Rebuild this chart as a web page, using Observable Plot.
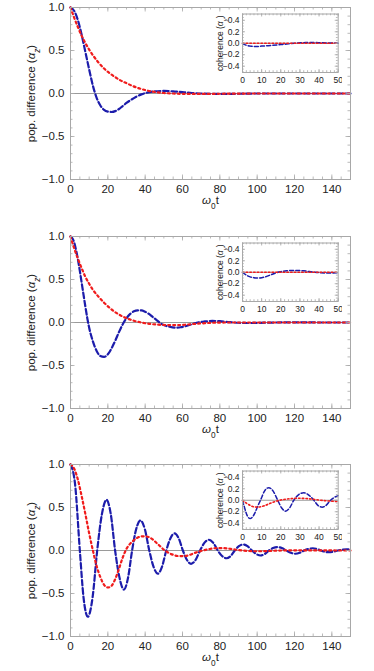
<!DOCTYPE html>
<html><head><meta charset="utf-8">
<script src="https://cdn.jsdelivr.net/npm/d3@7"></script>
<script src="https://cdn.jsdelivr.net/npm/@observablehq/plot@0.6"></script>
<style>
html,body{margin:0;padding:0;background:#fff;overflow:hidden;}
#wrap{position:relative;width:374px;height:671px;}
.panel,.inset{position:absolute;}
</style></head><body><div id="wrap"></div>
<script>
// ---- tick labels ----
const xTicksMain = [0, 20, 40, 60, 80, 100, 120, 140];
const yTicksMain = [-1, -0.5, 0, 0.5, 1];
const xTicksInset = [0, 10, 20, 30, 40, 50];
const yTicksInset = [-0.4, -0.2, 0, 0.2, 0.4];

// ---- panel 1 (top) ----
const mainBlue1 = [[0,1],[2,0.96],[4,0.85],[6,0.68],[8,0.48],[10,0.28],[12,0.09],[14,-0.05],[16,-0.14],[18,-0.19],[20,-0.21],[22,-0.215],[24,-0.205],[26,-0.18],[28,-0.145],[30,-0.11],[32,-0.08],[35,-0.04],[38,-0.01],[41,0.01],[45,0.025],[50,0.03],[55,0.025],[60,0.015],[65,0.006],[70,0],[80,-0.004],[90,-0.003],[100,0],[120,0],[150,0]];
const mainRed1 = [[0,1],[2,0.88],[4,0.77],[6,0.67],[8,0.585],[10,0.51],[12,0.445],[15,0.36],[18,0.29],[21,0.235],[24,0.19],[27,0.15],[30,0.12],[33,0.09],[36,0.065],[40,0.04],[45,0.018],[50,0.006],[55,0],[60,-0.004],[70,-0.005],[80,-0.003],[100,0],[150,0]];
const insetBlue1 = [[0,0],[1,-0.02],[2,-0.035],[4,-0.05],[6,-0.055],[8,-0.055],[10,-0.05],[12,-0.045],[15,-0.038],[18,-0.03],[21,-0.02],[24,-0.01],[27,0],[30,0.007],[33,0.011],[36,0.012],[40,0.01],[45,0.005],[50,0.002]];
const insetRed1 = [[0,0],[10,0],[20,0],[30,0],[40,0],[50,0]];

// ---- panel 2 (middle) ----
const mainBlue2 = [[0,1],[1,0.98],[2,0.93],[3,0.84],[4,0.73],[5,0.6],[6,0.46],[7,0.32],[8,0.18],[9,0.05],[10,-0.06],[12,-0.22],[14,-0.33],[16,-0.39],[18,-0.4],[20,-0.37],[22,-0.3],[24,-0.21],[26,-0.11],[28,-0.02],[30,0.05],[32,0.1],[34,0.13],[36,0.14],[38,0.14],[40,0.125],[42,0.1],[44,0.065],[46,0.03],[48,-0.005],[50,-0.03],[53,-0.05],[56,-0.06],[59,-0.055],[62,-0.04],[65,-0.02],[68,0],[72,0.012],[76,0.018],[80,0.015],[85,0.005],[90,-0.003],[95,-0.006],[100,-0.004],[110,0],[120,0.002],[135,0],[150,0]];
const mainRed2 = [[0,1],[2,0.86],[4,0.74],[6,0.63],[8,0.53],[10,0.45],[12,0.38],[15,0.3],[18,0.23],[21,0.17],[24,0.12],[27,0.08],[30,0.05],[34,0.02],[38,0],[42,-0.015],[47,-0.025],[52,-0.03],[57,-0.03],[62,-0.025],[67,-0.015],[72,-0.008],[78,-0.002],[85,0],[100,0],[150,0]];
const insetBlue2 = [[0,0],[2,-0.05],[4,-0.08],[6,-0.095],[8,-0.1],[10,-0.095],[12,-0.08],[14,-0.055],[16,-0.03],[18,-0.005],[20,0.01],[23,0.025],[26,0.032],[29,0.032],[32,0.025],[35,0.012],[38,0],[41,-0.008],[44,-0.012],[47,-0.012],[50,-0.01]];
const insetRed2 = [[0,0],[10,0],[20,0],[30,0],[40,0],[50,0]];

// ---- panel 3 (bottom) ----
const mainBlue3 = [[0,1],[2.4,0.78],[5,0],[7,-0.55],[9.3,-0.77],[11.8,-0.55],[14.3,0],[16.8,0.42],[19.3,0.59],[21.6,0.42],[23.9,0],[26.3,-0.32],[28.6,-0.455],[30.8,-0.32],[33,0],[35.2,0.25],[37.5,0.35],[39.8,0.25],[42.2,0],[44.5,-0.19],[46.8,-0.27],[49,-0.19],[51.3,0],[53.5,0.14],[55.7,0.2],[58,0.14],[60.2,0],[62.4,-0.11],[64.6,-0.155],[67,-0.11],[69.4,0],[71.7,0.088],[74.1,0.125],[76.5,0.088],[78.9,0],[81.2,-0.064],[83.6,-0.09],[85.8,-0.064],[88,0],[90.2,0.05],[92.5,0.07],[94.8,0.05],[97.2,0],[99.5,-0.041],[101.8,-0.058],[104,-0.041],[106.3,0],[108.5,0.028],[110.7,0.04],[113.2,0.028],[115.6,0],[118,-0.027],[120.5,-0.038],[122.8,-0.027],[125.2,0],[127.5,0.018],[129.8,0.026],[132,0.018],[134.1,0],[136.2,-0.014],[138.4,-0.02],[140.8,-0.014],[143.2,0],[145.6,0.009],[148,0.013],[150,0.01]];
const mainRed3 = [[0,1],[2,0.95],[4,0.82],[6,0.63],[8,0.42],[10,0.2],[12,0],[14,-0.18],[16,-0.31],[18,-0.4],[20,-0.43],[22,-0.41],[24,-0.33],[26,-0.21],[28,-0.08],[30,0.02],[32,0.08],[34,0.12],[36,0.15],[38,0.165],[40,0.165],[42,0.155],[44,0.13],[46,0.09],[48,0.05],[50,0.01],[52,-0.02],[55,-0.05],[58,-0.065],[61,-0.065],[64,-0.05],[67,-0.025],[70,-0.005],[74,0.015],[78,0.027],[82,0.027],[86,0.018],[90,0.005],[95,-0.005],[100,-0.009],[105,-0.007],[110,-0.002],[120,0.002],[130,0.001],[150,0]];
const insetBlue3 = [[0,0],[1,-0.12],[2,-0.23],[3,-0.3],[4,-0.32],[5,-0.3],[6.5,-0.22],[8,-0.1],[9.4,0],[11.5,0.16],[13.7,0.22],[16,0.16],[18.4,0],[20.4,-0.13],[22.5,-0.19],[24.7,-0.13],[26.8,0],[29.4,0.1],[32,0.13],[34.6,0.09],[37.3,0],[39.4,-0.09],[41.6,-0.12],[43.8,-0.085],[46,0],[48,0.05],[50,0.08]];
const insetRed3 = [[0,0],[2,-0.05],[4,-0.09],[6,-0.115],[8,-0.12],[10,-0.11],[12,-0.09],[14,-0.06],[16,-0.035],[18,-0.012],[20,0.005],[23,0.02],[26,0.03],[29,0.035],[32,0.032],[35,0.025],[38,0.012],[41,0],[44,-0.01],[47,-0.018],[50,-0.022]];

const FONT = "'Liberation Sans', Arial, Helvetica, sans-serif";
const BLUE = "#1c1cab", RED = "#f01c1c", FRAME = "#a8a8a8", ZERO = "#9a9a9a";

function frameTicks(xMajor, xMinor, yMajor, yMinor, W, H, majLen, minLen) {
  const o = {stroke: FRAME, strokeWidth: 0.8};
  return [
    Plot.tickX(xMinor, {x: d => d, insetTop: H - minLen, ...o}),
    Plot.tickX(xMinor, {x: d => d, insetBottom: H - minLen, ...o}),
    Plot.tickX(xMajor, {x: d => d, insetTop: H - majLen, ...o}),
    Plot.tickX(xMajor, {x: d => d, insetBottom: H - majLen, ...o}),
    Plot.tickY(yMinor, {y: d => d, insetRight: W - minLen, ...o}),
    Plot.tickY(yMinor, {y: d => d, insetLeft: W - minLen, ...o}),
    Plot.tickY(yMajor, {y: d => d, insetRight: W - majLen, ...o}),
    Plot.tickY(yMajor, {y: d => d, insetLeft: W - majLen, ...o})
  ];
}

function richLabel(svg, aria, parts) {
  const text = svg.querySelector(`g[aria-label="${aria}"] text`);
  if (!text) return;
  text.textContent = "";
  for (const [s, st] of parts) {
    const ts = document.createElementNS("http://www.w3.org/2000/svg", "tspan");
    ts.textContent = s;
    if (st.includes("i")) ts.setAttribute("font-style", "italic");
    if (st.includes("s")) { ts.setAttribute("font-size", "0.72em"); ts.setAttribute("baseline-shift", "sub"); }
    text.appendChild(ts);
  }
}

function mainPlot(blue, red) {
  const W = 280, H = 172;
  const svg = Plot.plot({
    width: 374, height: 214,
    marginLeft: 70, marginRight: 24, marginTop: 7, marginBottom: 35,
    style: {fontFamily: FONT, fontSize: "11.5px", color: "#222", background: "transparent"},
    x: {domain: [0, 150]},
    y: {domain: [-1, 1]},
    marks: [
      Plot.ruleY([0], {stroke: ZERO, strokeWidth: 1}),
      Plot.line(blue, {x: d => d[0], y: d => d[1], curve: "monotone-x", stroke: BLUE, strokeWidth: 2.2, strokeDasharray: "5.5,2.8"}),
      Plot.line(red, {x: d => d[0], y: d => d[1], curve: "monotone-x", stroke: RED, strokeWidth: 2.2, strokeDasharray: "2,3"}),
      ...frameTicks(xTicksMain, d3.range(0, 151, 5), yTicksMain, d3.range(-10, 11).map(i => i / 10), W, H, 4.5, 2.5),
      Plot.frame({stroke: FRAME, strokeWidth: 1}),
      Plot.axisX({ticks: xTicksMain, tickSize: 0, tickPadding: 5, tickFormat: d => String(d), label: "ω0t", labelAnchor: "center", labelOffset: 24}),
      Plot.axisY({ticks: yTicksMain, tickSize: 0, tickPadding: 6, tickFormat: d3.format(".1f"), label: "pop. difference (αz)", labelAnchor: "center", labelOffset: 44})
    ]
  });
  richLabel(svg, "x-axis label", [["ω", "i"], ["0", "s"], ["t", ""]]);
  richLabel(svg, "y-axis label", [["pop. difference (", ""], ["α", "i"], ["z", "is"], [")", ""]]);
  return svg;
}

function insetPlot(blue, red) {
  const W = 95.7, H = 58.5;
  const svg = Plot.plot({
    width: 140, height: 76,
    marginLeft: 40, marginRight: 4.3, marginTop: 2.5, marginBottom: 15,
    style: {fontFamily: FONT, fontSize: "8.5px", color: "#222", background: "transparent"},
    x: {domain: [0, 50]},
    y: {domain: [-0.51, 0.51]},
    marks: [
      Plot.ruleY([0], {stroke: ZERO, strokeWidth: 1}),
      Plot.line(blue, {x: d => d[0], y: d => d[1], curve: "monotone-x", stroke: BLUE, strokeWidth: 1.5, strokeDasharray: "4,2.2"}),
      Plot.line(red, {x: d => d[0], y: d => d[1], curve: "monotone-x", stroke: RED, strokeWidth: 1.6, strokeDasharray: "1.5,2.2"}),
      ...frameTicks(xTicksInset, d3.range(0, 51, 2), yTicksInset, d3.range(-10, 11).map(i => i / 20), W, H, 3, 1.8),
      Plot.frame({stroke: FRAME, strokeWidth: 1}),
      Plot.axisX({ticks: xTicksInset, tickSize: 0, tickPadding: 4, tickFormat: d => String(d), label: null}),
      Plot.axisY({ticks: yTicksInset, tickSize: 0, tickPadding: 3, tickFormat: d3.format(".1f"), label: "coherence (αy)", labelAnchor: "center", labelOffset: 26})
    ]
  });
  richLabel(svg, "y-axis label", [["coherence (", ""], ["α", "i"], ["y", "is"], [")", ""]]);
  return svg;
}

const wrap = document.getElementById("wrap");
const panels = [
  [mainBlue1, mainRed1, insetBlue1, insetRed1],
  [mainBlue2, mainRed2, insetBlue2, insetRed2],
  [mainBlue3, mainRed3, insetBlue3, insetRed3]
];
const tops = [0, 229, 457];
panels.forEach(([mb, mr, ib, ir], i) => {
  const m = mainPlot(mb, mr);
  m.classList.add("panel");
  m.style.left = "0px"; m.style.top = tops[i] + "px";
  wrap.appendChild(m);
  const s = insetPlot(ib, ir);
  s.classList.add("inset");
  s.style.left = "202px"; s.style.top = (tops[i] + 11) + "px";
  wrap.appendChild(s);
});
</script></body></html>
